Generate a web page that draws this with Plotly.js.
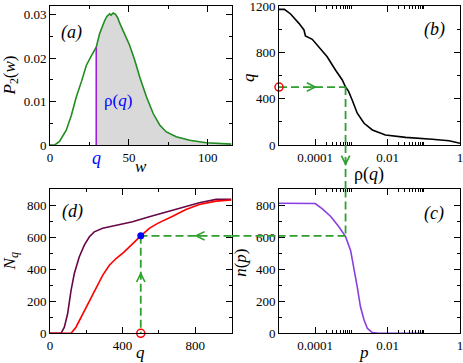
<!DOCTYPE html>
<html>
<head>
<meta charset="utf-8">
<script src="https://cdn.plot.ly/plotly-3.0.1.min.js"></script>
<style>
  html, body { margin: 0; padding: 0; background: #fff; }
  #chart { width: 463px; height: 363px; }
</style>
</head>
<body>
<div id="chart"></div>
<script>
// (a) weight distribution P2(w)
const wVals = [0, 3, 6, 10.3, 13.5, 16.6, 20, 23, 26, 29.3, 31.4, 33, 34.6, 36, 37.8, 38.7, 40, 41.5, 43, 44.1, 47.3, 50.5, 53.7, 56.9, 61.1, 65.3, 69.5, 73.7, 80, 88.5, 99, 108, 115]
const pVals = [0, 0, 0.0008, 0.0034, 0.0068, 0.011, 0.0147, 0.0183, 0.0204, 0.0225, 0.0256, 0.0272, 0.0286, 0.0296, 0.0302, 0.0299, 0.0304, 0.0301, 0.0292, 0.0281, 0.0256, 0.0229, 0.0195, 0.0156, 0.0111, 0.0073, 0.0046, 0.0030, 0.0019, 0.0011, 0.0005, 0.0003, 0.0002]
const qMark = 29.3
const pTicks = [0, 0.01, 0.02, 0.03]
const pTickText = ['0', '0.01', '0.02', '0.03']

// (b) threshold q vs rho(q)
const rhoB = [1e-5, 1.41e-5, 2.09e-5, 2.8e-5, 3.55e-5, 4.9e-5, 5.37e-5, 8.3e-5, 1.26e-4, 2.14e-4, 3.63e-4, 5.6e-4, 6.9e-4, 8.3e-4, 1.05e-3, 1.45e-3, 2.24e-3, 3.8e-3, 8.7e-3, 0.0316, 0.17, 0.5, 1]
const qB = [1171, 1171, 1131, 1090, 1050, 993, 941, 912, 849, 762, 647, 561, 500, 465, 388, 274, 187, 130, 86, 66, 49, 37, 15]
const qTicks = [0, 400, 800, 1200]

// (c) n(p)
const pC = [1e-5, 9.3e-5, 1e-4, 1.58e-4, 2.69e-4, 4.57e-4, 6.9e-4, 9.5e-4, 1.17e-3, 1.45e-3, 1.78e-3, 2.24e-3, 2.75e-3, 3.8e-3, 5.75e-3, 0.091]
const nC = [814, 813, 812, 779, 731, 665, 605, 519, 415, 291, 166, 83, 31, 4, 0, 0]

// (d) N_q, two curves
const qD1 = [0, 61, 79, 97, 116, 134, 161, 189, 217, 244, 290, 364, 455, 547, 602, 639, 731, 823, 915, 1000]
const nD1 = [0, 0, 38, 122, 269, 374, 478, 552, 604, 635, 657, 677, 698, 730, 747, 756, 785, 817, 838, 838]
const qD2 = [0, 116, 143, 180, 217, 253, 290, 327, 364, 409, 455, 500, 547, 593, 676, 749, 823, 915, 1000]
const nD2 = [0, 0, 38, 122, 206, 289, 363, 426, 468, 510, 562, 610, 657, 688, 733, 775, 806, 827, 834]

// the worked example drawn with green arrows
const q0 = 500
const rhoQ = 6.9e-4
const n0 = 610
const rhoMin = 1e-5

const logTicks = [1e-4, 1e-2, 1]
const logTickText = ['0.0001', '0.01', '1']
const logMinor = [2e-4, 3e-4, 4e-4, 5e-4, 6e-4, 7e-4, 8e-4, 9e-4, 1e-3,
  2e-2, 3e-2, 4e-2, 5e-2, 6e-2, 7e-2, 8e-2, 9e-2, 0.1]

const green = '#2ea02e'
const guide = {color: green, width: 1.8, dash: '8px,4px'}

const xLeft = [0.108, 0.5]
const xRight = [0.6026, 0.9935]
const yTop = [0.6006, 0.9835]
const yBot = [0.0818, 0.478]

const iq = wVals.indexOf(qMark)

const line = (x, y, xa, ya, style) => ({
  x, y, xaxis: xa, yaxis: ya, type: 'scatter', mode: 'lines',
  line: style, hoverinfo: 'none', cliponaxis: false,
})

const traces = [
  {
    x: wVals.slice(iq), y: pVals.slice(iq), xaxis: 'x', yaxis: 'y',
    type: 'scatter', mode: 'lines', fill: 'tozeroy', fillcolor: '#d9d9d9',
    line: {width: 0}, hoverinfo: 'none',
  },
  line(wVals, pVals, 'x', 'y', {color: '#218c21', width: 1.6}),
  line([qMark, qMark], [0, pVals[iq]], 'x', 'y', {color: '#9a1fd8', width: 1.6}),

  line(rhoB, qB, 'x2', 'y2', {color: 'black', width: 1.6}),
  line([rhoMin, rhoQ], [q0, q0], 'x2', 'y2', guide),
  line([rhoQ, rhoQ], [q0, 0], 'x2', 'y2', guide),
  {
    x: [rhoMin], y: [q0], xaxis: 'x2', yaxis: 'y2', type: 'scatter', mode: 'markers',
    marker: {symbol: 'circle-open', size: 8, color: 'red', line: {width: 1.5}},
    cliponaxis: false, hoverinfo: 'none',
  },

  line(pC, nC, 'x4', 'y4', {color: '#8a3de0', width: 1.6}),
  line([rhoQ, rhoQ], [900, n0], 'x4', 'y4', guide),
  line([rhoQ, rhoMin], [n0, n0], 'x4', 'y4', guide),

  line(qD1, nD1, 'x3', 'y3', {color: '#670748', width: 1.6}),
  line(qD2, nD2, 'x3', 'y3', {color: '#ff0000', width: 1.6}),
  line([1000, q0], [n0, n0], 'x3', 'y3', guide),
  line([q0, q0], [n0, 0], 'x3', 'y3', guide),
  {
    x: [q0], y: [0], xaxis: 'x3', yaxis: 'y3', type: 'scatter', mode: 'markers',
    marker: {symbol: 'circle-open', size: 8, color: 'red', line: {width: 1.5}},
    cliponaxis: false, hoverinfo: 'none',
  },
  {
    x: [q0], y: [n0], xaxis: 'x3', yaxis: 'y3', type: 'scatter', mode: 'markers',
    marker: {symbol: 'circle', size: 7, color: '#0000ff'},
    cliponaxis: false, hoverinfo: 'none',
  },
]

const axBase = {
  showline: true, linecolor: 'black', linewidth: 1, mirror: 'ticks',
  ticks: 'inside', ticklen: 6, tickwidth: 1, tickcolor: 'black',
  showgrid: false, zeroline: false, fixedrange: true,
  ticklabeloverflow: 'allow',
  tickfont: {size: 13, color: 'black'},
}
const minorLin = (d) => ({ticks: 'inside', ticklen: 3, tickcolor: 'black', dtick: d, showgrid: false})
const logAx = (anchor, domain) => ({
  ...axBase, type: 'log', anchor, domain, range: [-5, 0],
  tickmode: 'array', tickvals: logTicks, ticktext: logTickText,
  minor: {ticks: 'inside', ticklen: 3, tickcolor: 'black', tickmode: 'array', tickvals: logMinor, showgrid: false},
})

const tfont = {family: 'Liberation Serif', size: 17, color: 'black'}
const title = (text, xref, x, yref, y, extra) => ({
  text, xref, x, yref, y, showarrow: false, font: tfont,
  xanchor: 'center', yanchor: 'middle', ...extra,
})
const arrowHead = (xref, x, yref, y, ax, ay) => ({
  text: ' ', xref, x, yref, y, ax, ay, showarrow: true,
  arrowhead: 5, arrowsize: 1.1, arrowwidth: 1.5, arrowcolor: green,
  font: {size: 1},
})

const annotations = [
  // (a)
  title('<i>w</i>', 'x domain', 0.5, 'y domain', 0, {yanchor: 'top', yshift: -10}),
  title('<i>P</i><sub>2</sub>(<i>w</i>)', 'paper', 11 / 463, 'y domain', 0.5, {textangle: -90}),
  title('<i>(a)</i>', 'x domain', 0.12, 'y domain', 0.81, {font: {...tfont, size: 18}}),
  title('ρ(<i>q</i>)', 'x', 43, 'y', 0.0103, {font: {...tfont, size: 17, color: '#0000ff'}}),
  title('<i>q</i>', 'x', qMark, 'y domain', 0, {yanchor: 'top', yshift: -1, font: {...tfont, size: 18, color: '#0000ff'}}),
  // (b)
  title('<i>q</i>', 'paper', 249 / 463, 'y2 domain', 0.49, {textangle: -90}),
  title('ρ(<i>q</i>)', 'x2 domain', 0.5, 'y2 domain', 0, {yanchor: 'top', yshift: -17, font: {...tfont, size: 18}}),
  title('<i>(b)</i>', 'x2 domain', 0.86, 'y2 domain', 0.83, {font: {...tfont, size: 18}}),
  // (d)
  title('<i>N</i><sub><i>q</i></sub>', 'paper', 11 / 463, 'y3 domain', 0.5, {textangle: -90}),
  title('<i>q</i>', 'x3 domain', 0.5, 'y3 domain', 0, {yanchor: 'top', yshift: -8}),
  title('<i>(d)</i>', 'x3 domain', 0.125, 'y3 domain', 0.845, {font: {...tfont, size: 18}}),
  // (c)
  title('<i>n</i>(<i>p</i>)', 'paper', 241 / 463, 'y4 domain', 0.49, {textangle: -90}),
  title('<i>p</i>', 'x4 domain', 0.47, 'y4 domain', 0, {yanchor: 'top', yshift: -8}),
  title('<i>(c)</i>', 'x4 domain', 0.855, 'y4 domain', 0.835, {font: {...tfont, size: 18}}),
  // arrow heads on the guide lines
  arrowHead('x2', -3.95, 'y2', q0, -8, 0),
  arrowHead('x2', Math.log10(rhoQ), 'paper', 0.543, 0, -8),
  arrowHead('x3', 795, 'y3', n0, 8, 0),
  arrowHead('x3', q0, 'y3', 385, 0, 8),
]

const shapes = [
  {type: 'line', xref: 'x2', yref: 'paper', x0: rhoQ, x1: rhoQ, y0: yTop[0], y1: yBot[1], line: guide},
  {type: 'line', xref: 'paper', yref: 'y4', x0: xLeft[1], x1: xRight[0], y0: n0, y1: n0, line: guide},
]

const layout = {
  width: 463, height: 363,
  margin: {l: 0, r: 0, t: 0, b: 0, pad: 0},
  paper_bgcolor: 'white', plot_bgcolor: 'white',
  showlegend: false,
  font: {family: 'Liberation Serif', size: 13, color: 'black'},
  xaxis: {...axBase, anchor: 'y', domain: xLeft, range: [0, 115], dtick: 50, tick0: 0, minor: minorLin(25)},
  yaxis: {...axBase, anchor: 'x', domain: yTop, range: [0, 0.032], tickmode: 'array', tickvals: pTicks, ticktext: pTickText, minor: minorLin(0.005)},
  xaxis2: logAx('y2', xRight),
  yaxis2: {...axBase, anchor: 'x2', domain: yTop, range: [0, 1200], tickmode: 'array', tickvals: qTicks, ticktext: qTicks.map(String), minor: minorLin(200)},
  xaxis3: {...axBase, anchor: 'y3', domain: xLeft, range: [0, 1000], dtick: 400, tick0: 0, minor: minorLin(200)},
  yaxis3: {...axBase, anchor: 'x3', domain: yBot, range: [0, 900], dtick: 200, tick0: 0, minor: minorLin(100)},
  xaxis4: logAx('y4', xRight),
  yaxis4: {...axBase, anchor: 'x4', domain: yBot, range: [0, 900], dtick: 200, tick0: 0, minor: minorLin(100)},
  annotations,
  shapes,
}

Plotly.newPlot('chart', traces, layout, {staticPlot: true, displayModeBar: false})
</script>
</body>
</html>
